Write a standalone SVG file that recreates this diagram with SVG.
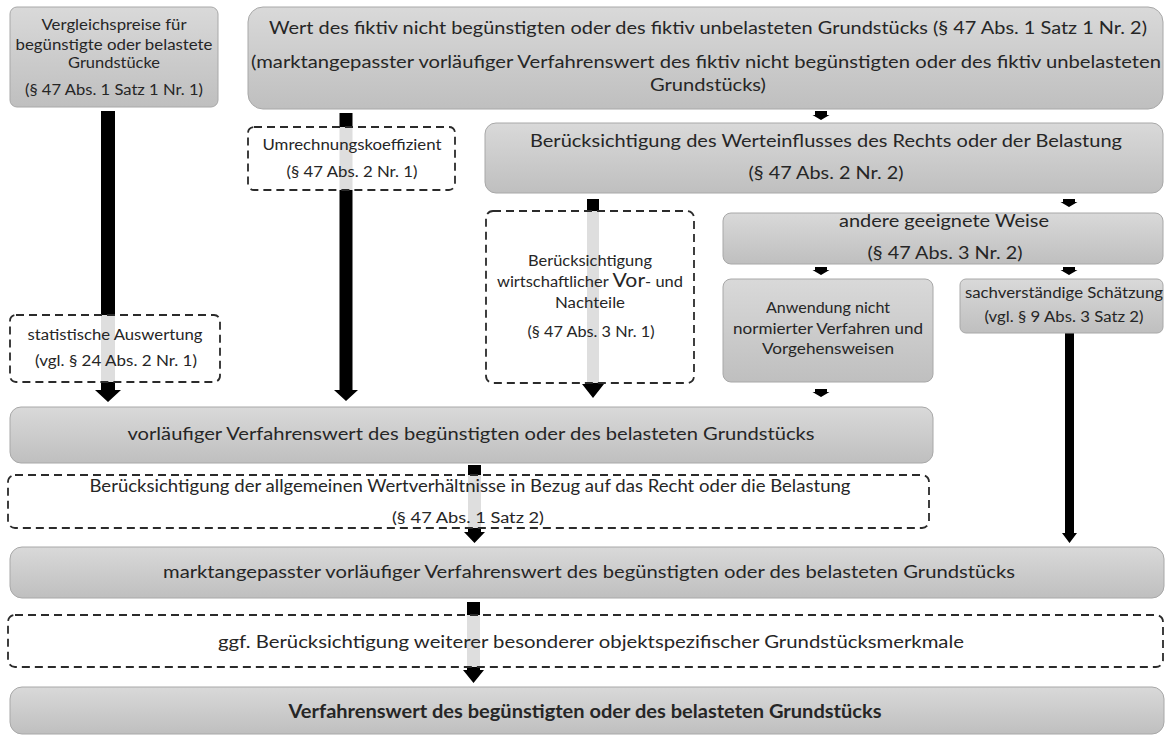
<svg xmlns="http://www.w3.org/2000/svg" width="1167" height="736" viewBox="0 0 1167 736">
<defs>
<linearGradient id="g" x1="0" y1="0" x2="0" y2="1">
<stop offset="0" stop-color="#d9d9d9"/>
<stop offset="1" stop-color="#bfbfbf"/>
</linearGradient>
<style>
.box{fill:url(#g);stroke:#a8a8a8;stroke-width:1}
.dash{fill:#fff;fill-opacity:0.87;stroke:#2b2b2b;stroke-width:1.8;stroke-dasharray:8 5}
.arr{fill:#000}
text{font-family:Lato,"Liberation Sans",sans-serif;fill:#262626;text-anchor:middle}
.s{font-size:15.5px}
.m{font-size:17px}
.l{font-size:18px}
.b{font-weight:bold}
</style>
</defs>
<rect width="1167" height="736" fill="#fff"/>
<g id="connectors">
<path class="arr" d="M101,111 H115 V390 H121 L108,402 L95,390 H101 Z"/>
<path class="arr" d="M339.5,113 H352.5 V390 H358 L346,401 L334,390 H339.5 Z"/>
<path class="arr" d="M587,199 H599 V384 H604 L593,398 L582,384 H587 Z"/>
<path class="arr" d="M1065,333 H1074 V533 H1077 L1069.5,543 L1062,533 H1065 Z"/>
<path class="arr" d="M468,465 H481 V532 H485 L474.5,543 L464,532 H468 Z"/>
<path class="arr" d="M467,602 H480 V670 H484 L473.5,683 L463,670 H467 Z"/>
<path class="arr" d="M815,111 H827 V115 H829.5 L821,120 L812.5,115 H815 Z"/>
<path class="arr" d="M1063,199 H1075 V202 H1077.5 L1069,207 L1060.5,202 H1063 Z"/>
<path class="arr" d="M815,267 H827 V270 H829.5 L821,275 L812.5,270 H815 Z"/>
<path class="arr" d="M1063,267 H1075 V270 H1077.5 L1069,275 L1060.5,270 H1063 Z"/>
<path class="arr" d="M815,389 H827 V392 H829.5 L821,397 L812.5,392 H815 Z"/>
</g>
<g id="n-vergleichspreise">
<rect class="box" x="10" y="7" width="208" height="100" rx="7"/>
<text class="s" x="114" y="30" textLength="145" lengthAdjust="spacingAndGlyphs">Vergleichspreise für</text>
<text class="s" x="114" y="50" textLength="197" lengthAdjust="spacingAndGlyphs">begünstigte oder belastete</text>
<text class="s" x="114" y="68" textLength="92" lengthAdjust="spacingAndGlyphs">Grundstücke</text>
<text class="s" x="114" y="95" textLength="178" lengthAdjust="spacingAndGlyphs">(§ 47 Abs. 1 Satz 1 Nr. 1)</text>
</g>
<g id="n-wert-fiktiv">
<rect class="box" x="248" y="7" width="915" height="102" rx="15"/>
<text class="l" x="708" y="34" textLength="878" lengthAdjust="spacingAndGlyphs">Wert des fiktiv nicht begünstigten oder des fiktiv unbelasteten Grundstücks (§ 47 Abs. 1 Satz 1 Nr. 2)</text>
<text class="l" x="706" y="68" textLength="910" lengthAdjust="spacingAndGlyphs">(marktangepasster vorläufiger Verfahrenswert des fiktiv nicht begünstigten oder des fiktiv unbelasteten</text>
<text class="l" x="708" y="91" textLength="116" lengthAdjust="spacingAndGlyphs">Grundstücks)</text>
</g>
<g id="n-umrechnung">
<rect class="dash" x="248" y="127" width="207" height="63" rx="6"/>
<text class="s" x="352" y="150" textLength="179" lengthAdjust="spacingAndGlyphs">Umrechnungskoeffizient</text>
<text class="s" x="352" y="177" textLength="131" lengthAdjust="spacingAndGlyphs">(§ 47 Abs. 2 Nr. 1)</text>
</g>
<g id="n-werteinfluss">
<rect class="box" x="485" y="123" width="678" height="70" rx="11"/>
<text class="l" x="826" y="147" textLength="592" lengthAdjust="spacingAndGlyphs">Berücksichtigung des Werteinflusses des Rechts oder der Belastung</text>
<text class="l" x="826" y="179" textLength="155" lengthAdjust="spacingAndGlyphs">(§ 47 Abs. 2 Nr. 2)</text>
</g>
<g id="n-wirtschaftlich">
<rect class="dash" x="486" y="211" width="208" height="172" rx="7"/>
<text class="s" x="590" y="266" textLength="124" lengthAdjust="spacingAndGlyphs">Berücksichtigung</text>
<text class="s" x="590" y="287" textLength="186" lengthAdjust="spacingAndGlyphs">wirtschaftlicher <tspan font-size="20px">Vor</tspan>- und</text>
<text class="s" x="590" y="308" textLength="70" lengthAdjust="spacingAndGlyphs">Nachteile</text>
<text class="s" x="591" y="337" textLength="127" lengthAdjust="spacingAndGlyphs">(§ 47 Abs. 3 Nr. 1)</text>
</g>
<g id="n-andere">
<rect class="box" x="723" y="213" width="440" height="51" rx="8"/>
<text class="l" x="944" y="227" textLength="210" lengthAdjust="spacingAndGlyphs">andere geeignete Weise</text>
<text class="l" x="945" y="259" textLength="155" lengthAdjust="spacingAndGlyphs">(§ 47 Abs. 3 Nr. 2)</text>
</g>
<g id="n-anwendung">
<rect class="box" x="723" y="279" width="210" height="103" rx="8"/>
<text class="s" x="828" y="313" textLength="124" lengthAdjust="spacingAndGlyphs">Anwendung nicht</text>
<text class="s" x="828" y="334" textLength="190" lengthAdjust="spacingAndGlyphs">normierter Verfahren und</text>
<text class="s" x="828" y="354" textLength="132" lengthAdjust="spacingAndGlyphs">Vorgehensweisen</text>
</g>
<g id="n-sachverstaendig">
<rect class="box" x="960" y="279" width="203" height="54" rx="6"/>
<text class="s" x="1064" y="298" textLength="198" lengthAdjust="spacingAndGlyphs">sachverständige Schätzung</text>
<text class="s" x="1064" y="322" textLength="159" lengthAdjust="spacingAndGlyphs">(vgl. § 9 Abs. 3 Satz 2)</text>
</g>
<g id="n-statistik">
<rect class="dash" x="10" y="315" width="210" height="67" rx="6"/>
<text class="s" x="115" y="340" textLength="175" lengthAdjust="spacingAndGlyphs">statistische Auswertung</text>
<text class="s" x="116" y="366" textLength="162" lengthAdjust="spacingAndGlyphs">(vgl. § 24 Abs. 2 Nr. 1)</text>
</g>
<g id="n-vorlaeufig">
<rect class="box" x="10" y="407" width="923" height="56" rx="11"/>
<text class="l" x="471" y="440" textLength="687" lengthAdjust="spacingAndGlyphs">vorläufiger Verfahrenswert des begünstigten oder des belasteten Grundstücks</text>
</g>
<g id="n-allgemein">
<rect class="dash" x="8" y="475" width="921" height="53" rx="7"/>
<text class="m" x="470" y="492" textLength="761" lengthAdjust="spacingAndGlyphs">Berücksichtigung der allgemeinen Wertverhältnisse in Bezug auf das Recht oder die Belastung</text>
<text class="s" x="468" y="523" textLength="152" lengthAdjust="spacingAndGlyphs">(§ 47 Abs. 1 Satz 2)</text>
</g>
<g id="n-marktangepasst">
<rect class="box" x="10" y="547" width="1154" height="51" rx="12"/>
<text class="l" x="589" y="578" textLength="852" lengthAdjust="spacingAndGlyphs">marktangepasster vorläufiger Verfahrenswert des begünstigten oder des belasteten Grundstücks</text>
</g>
<g id="n-ggf">
<rect class="dash" x="8" y="615" width="1155" height="52" rx="7"/>
<text class="l" x="591" y="648" textLength="746" lengthAdjust="spacingAndGlyphs">ggf. Berücksichtigung weiterer besonderer objektspezifischer Grundstücksmerkmale</text>
</g>
<g id="n-verfahrenswert">
<rect class="box" x="10" y="687" width="1154" height="47" rx="12"/>
<text class="l b" x="585" y="718" textLength="593" lengthAdjust="spacingAndGlyphs">Verfahrenswert des begünstigten oder des belasteten Grundstücks</text>
</g>
</svg>
